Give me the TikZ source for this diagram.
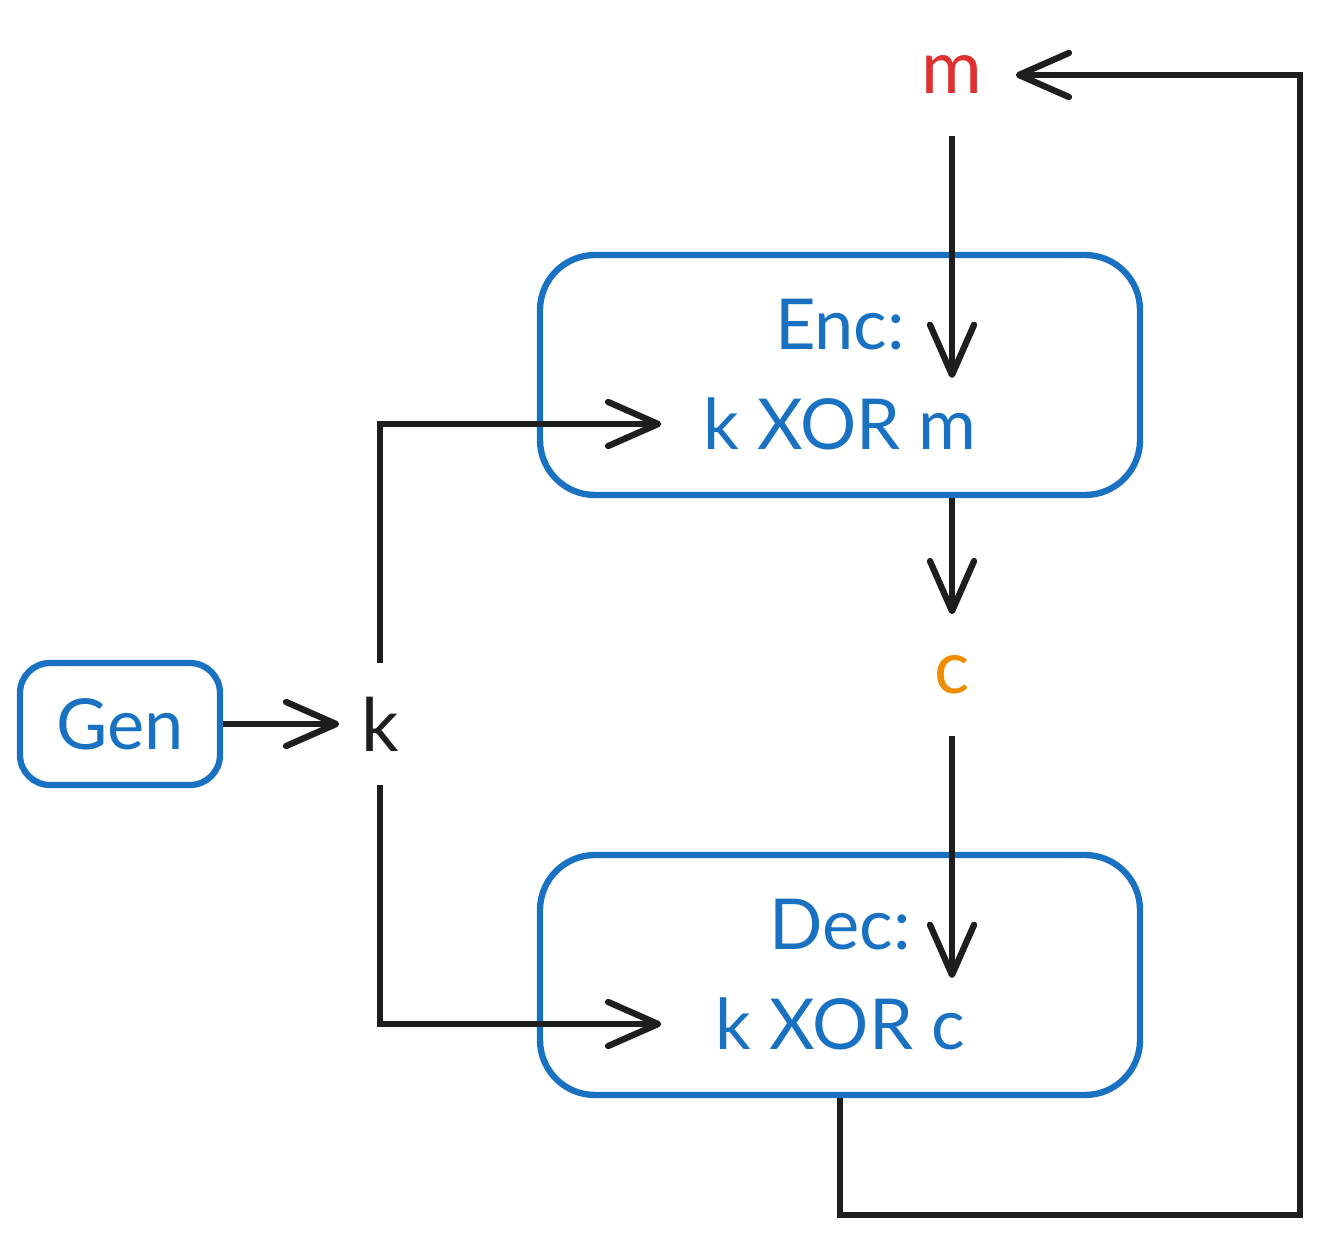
\documentclass[tikz,border=0pt]{standalone}
\usepackage{fontspec}
\setmainfont{Lato}
\usetikzlibrary{arrows.meta, positioning}
\definecolor{boxblue}{HTML}{1971C2}
\definecolor{msgred}{HTML}{E03131}
\definecolor{ctorange}{HTML}{F08C00}
\definecolor{ink}{HTML}{1E1E1E}

\begin{document}
\begin{tikzpicture}[
  algbox/.style={draw=boxblue, line width=1.8pt, rectangle, rounded corners=0.55cm, minimum width=6cm, minimum height=2.4cm},
  algtxt/.style={text=boxblue, inner sep=0pt, font=\fontsize{20}{24}\selectfont},
  optxt/.style={algtxt, minimum width=3.56cm},
  var/.style={inner sep=0pt, font=\fontsize{21}{25}\selectfont, minimum height=1.2cm},
  flow/.style={draw=ink, line width=1.8pt, -{Straight Barb[round, length=0.5cm, width=0.44cm]}}
]
\useasboundingbox (0,0) rectangle (13.2,-12.36);

% ---- Key generation ----
\node[algbox, algtxt, inner sep=0pt, rounded corners=0.3cm, minimum width=2cm, minimum height=1.22cm] (gen) at (1.2,-7.24) {Gen};
\node[var, text=ink, minimum width=0.8cm] (k) at (3.8,-7.24) {k};

% ---- Encryption ----
\node[var, text=msgred, minimum width=1.26cm] (m) at (9.52,-0.75) {m};
\node[algbox] (enc) at (8.4,-3.75) {};
\node[algtxt] (encname) at (8.4,-3.25) {Enc:};
\node[optxt] (encop) at (8.4,-4.24) {k XOR m};
\coordinate (encin) at (9.52,-3.78);

% ---- Ciphertext ----
\node[var, text=ctorange, minimum width=0.8cm] (c) at (9.52,-6.75) {c};

% ---- Decryption ----
\node[algbox] (dec) at (8.4,-9.75) {};
\node[algtxt] (decname) at (8.4,-9.25) {Dec:};
\node[optxt] (decop) at (8.4,-10.24) {k XOR c};
\coordinate (decin) at (9.52,-9.78);
\coordinate (loopc) at (13.0,-12.15);

% ---- Data flow ----
\draw[flow] (gen) -- (k);
\draw[flow] (k) |- (encop);
\draw[flow] (k) |- (decop);
\draw[flow] (m) -- (encin);
\draw[flow] (c.north |- enc.south) -- (c);
\draw[flow] (c) -- (decin);
\draw[flow] (dec) |- (loopc) |- (m);

\end{tikzpicture}
\end{document}
